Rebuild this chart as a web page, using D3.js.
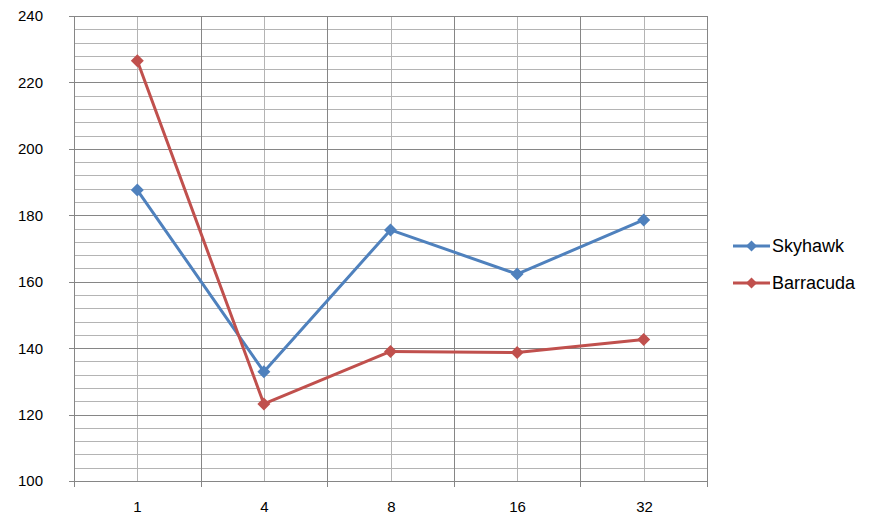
<!DOCTYPE html>
<html>
<head>
<meta charset="utf-8">
<script src="https://cdnjs.cloudflare.com/ajax/libs/d3/7.8.5/d3.min.js"></script>
<style>
  body { margin: 0; background: #fff; }
  svg { display: block; }
  text { font-family: "Liberation Sans", Arial, sans-serif; fill: #000; }
</style>
</head>
<body>
<svg id="chart" width="872" height="524"></svg>
<script>
// data
var categories = ["1", "4", "8", "16", "32"];
var skyhawk = [187.6, 132.9, 175.6, 162.3, 178.6];
var barracuda = [226.5, 123.2, 139.0, 138.7, 142.6];
var seriesNames = ["Skyhawk", "Barracuda"];
var seriesColors = ["#4F81BD", "#C0504D"];
var yTicks = [100, 120, 140, 160, 180, 200, 220, 240];

var svg = d3.select("#chart");
var margin = { left: 74, right: 165, top: 16, bottom: 43 };
var width = 872, height = 524;

var x = d3.scaleBand()
    .domain(categories)
    .range([margin.left, width - margin.right])
    .padding(0);
var y = d3.scaleLinear()
    .domain([100, 240])
    .range([height - margin.bottom, margin.top]);

var xc = function (c) { return Math.round(x(c) + x.bandwidth() / 2) + 0.5; };
var yp = function (v) { return Math.round(y(v)) + 0.5; };

var grid = svg.append("g");
// minor horizontal gridlines every 4
d3.range(100, 241, 4).forEach(function (v) {
    if (v % 20 === 0) return;
    grid.append("line")
        .attr("x1", margin.left).attr("x2", width - margin.right)
        .attr("y1", yp(v)).attr("y2", yp(v))
        .attr("stroke", "#b4b4b4").attr("stroke-width", 1);
});
// vertical lines through category centres
categories.forEach(function (c) {
    grid.append("line")
        .attr("x1", xc(c)).attr("x2", xc(c))
        .attr("y1", margin.top).attr("y2", height - margin.bottom)
        .attr("stroke", "#b4b4b4").attr("stroke-width", 1);
});
// major horizontal gridlines + ticks
yTicks.forEach(function (v) {
    grid.append("line")
        .attr("x1", margin.left - 5).attr("x2", width - margin.right)
        .attr("y1", yp(v)).attr("y2", yp(v))
        .attr("stroke", "#868686").attr("stroke-width", 1);
    svg.append("text")
        .attr("x", 43).attr("y", y(v))
        .attr("dy", "0.36em")
        .attr("text-anchor", "end")
        .style("font-size", "15px")
        .text(v);
});
// category boundaries
var bounds = categories.map(function (c) { return x(c); }).concat([x.range()[1]]);
bounds.forEach(function (b) {
    var bx = Math.round(b) + 0.5;
    grid.append("line")
        .attr("x1", bx).attr("x2", bx)
        .attr("y1", margin.top).attr("y2", height - margin.bottom + 6)
        .attr("stroke", "#868686").attr("stroke-width", 1);
});
// x labels
categories.forEach(function (c) {
    svg.append("text")
        .attr("x", xc(c)).attr("y", 512)
        .attr("text-anchor", "middle")
        .style("font-size", "15px")
        .text(c);
});

function diamond(cx, cy, r) {
    return "M" + cx + "," + (cy - r) + "L" + (cx + r) + "," + cy +
        "L" + cx + "," + (cy + r) + "L" + (cx - r) + "," + cy + "Z";
}

var line = d3.line()
    .x(function (d, i) { return x(categories[i]) + x.bandwidth() / 2; })
    .y(function (d) { return y(d); });

[skyhawk, barracuda].forEach(function (data, s) {
    var g = svg.append("g");
    g.append("path")
        .attr("d", line(data))
        .attr("fill", "none")
        .attr("stroke", seriesColors[s])
        .attr("stroke-width", 3)
        .attr("stroke-linejoin", "round");
    data.forEach(function (d, i) {
        g.append("path")
            .attr("d", diamond(x(categories[i]) + x.bandwidth() / 2, y(d), 6.5))
            .attr("fill", seriesColors[s]);
    });
});

// legend
seriesNames.forEach(function (name, s) {
    var ly = 246 + s * 37;
    var lg = svg.append("g");
    lg.append("line")
        .attr("x1", 733).attr("x2", 770)
        .attr("y1", ly).attr("y2", ly)
        .attr("stroke", seriesColors[s]).attr("stroke-width", 3);
    lg.append("path")
        .attr("d", diamond(751.5, ly, 5.5))
        .attr("fill", seriesColors[s]);
    lg.append("text")
        .attr("x", 772).attr("y", ly)
        .attr("dy", "0.36em")
        .style("font-size", "18px")
        .text(name);
});
</script>
</body>
</html>
